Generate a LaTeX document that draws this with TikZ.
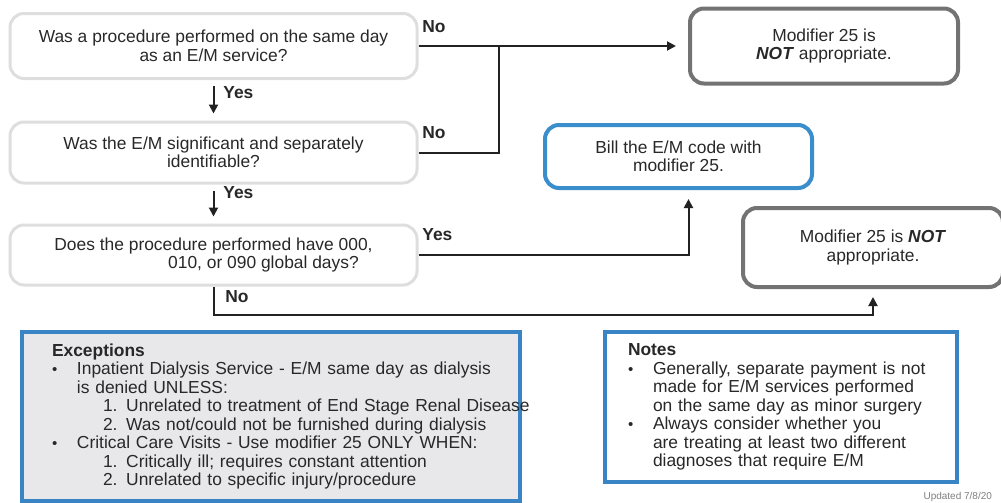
\documentclass[tikz,border=0pt]{standalone}
\usepackage{fontspec}
\setmainfont{Liberation Sans}
\usetikzlibrary{arrows.meta}

\definecolor{txtgray}{RGB}{40,40,40}
\definecolor{qgray}{RGB}{222,222,222}
\definecolor{resgray}{RGB}{115,115,115}
\definecolor{billblue}{RGB}{58,142,204}
\definecolor{panelblue}{RGB}{56,132,196}
\definecolor{exfill}{RGB}{232,232,234}
\definecolor{linegray}{RGB}{34,34,34}

\newcommand{\smallbullet}{\makebox[12.5pt][l]{\fontsize{7.5}{7.5}\selectfont\textbullet}}

\begin{document}
\begin{tikzpicture}[x=0.5pt, y=-0.5pt,
    every node/.style={font=\fontsize{8.7}{9.25}\selectfont, text=txtgray},
    question/.style={draw=qgray, line width=1.5pt, rounded corners=7pt, align=center, minimum width=203.5pt},
    result/.style={draw=resgray, line width=2pt, rounded corners=7pt, align=center},
    billbox/.style={draw=billblue, line width=2pt, rounded corners=7pt, align=center},
    panel/.style={draw=panelblue, line width=2pt, align=left},
    lbl/.style={font=\fontsize{8.7}{9.25}\selectfont\bfseries, anchor=west, inner sep=0pt},
    conn/.style={draw=linegray, line width=1pt, -{Triangle[length=4.5pt, width=4.5pt]}},
    plain/.style={draw=linegray, line width=1pt},
    yesarrow/.style={conn, shorten <=3pt, shorten >=3.5pt}]

        \useasboundingbox (0,0) rectangle (1001,503);

        \node[question, minimum height=32.5pt] (question1) at (213.5,46) {Was a procedure performed on the same day\\as an E/M service?};
        \node[question, minimum height=30.5pt] (question2) at (213.5,152.5) {Was the E/M significant and separately\\identifiable?};
        \node[question, minimum height=30pt] (question3) at (213.5,255) {Does the procedure performed have 000,\\\hspace*{50pt}010, or 090 global days?};

        \node[result, minimum width=134pt, minimum height=37.5pt] (notok1) at (824,46) {Modifier 25 is\\\textbf{\textit{NOT}} appropriate.};
        \node[billbox, minimum width=133.5pt, minimum height=31.5pt] (bill) at (678.5,156.5) {Bill the E/M code with\\modifier 25.};
        \node[result, minimum width=130pt, minimum height=39.5pt] (notok2) at (873,247.5) {Modifier 25 is \textbf{\textit{NOT}}\\appropriate.};

        \coordinate (junction) at (499,46);

        \draw[yesarrow] (question1.south) -- (question2.north);
        \draw[yesarrow] (question2.south) -- (question3.north);
        \draw[conn, shorten >=6pt] (question1.east) -- (notok1.west);
        \draw[plain] (question2.east) -| (junction);
        \draw[conn, shorten >=4.5pt] (question3.east) -| ([xshift=5pt]bill.south);
        \draw[conn, shorten >=4pt] (question3.south) -- ++(0,28) -| (notok2.south);

        \node[lbl] (yes1) at (223,93) {Yes};
        \node[lbl] (yes2) at (223,193) {Yes};
        \node[lbl] (no1) at (422,27) {No};
        \node[lbl] (no2) at (422,133) {No};
        \node[lbl] (yes3) at (422,235) {Yes};
        \node[lbl] (no3) at (225,297) {No};

        \node[panel, fill=exfill, minimum height=84.5pt, text width=219pt, inner xsep=15pt] (exceptions) at (271,416.5) {\textbf{Exceptions}\\
            \smallbullet\mbox{Inpatient Dialysis Service - E/M same day as dialysis}\\
            \hspace*{12.5pt}is denied UNLESS:\\
            \hspace*{25.5pt}\mbox{1. Unrelated to treatment of End Stage Renal Disease}\\
            \hspace*{25.5pt}2. Was not/could not be furnished during dialysis\\
            \smallbullet Critical Care Visits - Use modifier 25 ONLY WHEN:\\
            \hspace*{25.5pt}1. Critically ill; requires constant attention\\
            \hspace*{25.5pt}2. Unrelated to specific injury/procedure};

        \node[panel, fill=white, minimum height=75pt, text width=153pt, inner xsep=11.5pt] (notes) at (781,407) {\textbf{Notes}\\
            \smallbullet Generally, separate payment is not\\
            \hspace*{12.5pt}made for E/M services performed\\
            \hspace*{12.5pt}on the same day as minor surgery\\
            \smallbullet Always consider whether you\\
            \hspace*{12.5pt}are treating at least two different\\
            \hspace*{12.5pt}diagnoses that require E/M};

        \node[anchor=east, font=\fontsize{5}{5.5}\selectfont, text=gray] (updated) at (999,497) {Updated 7/8/20};

    \end{tikzpicture}
\end{document}
